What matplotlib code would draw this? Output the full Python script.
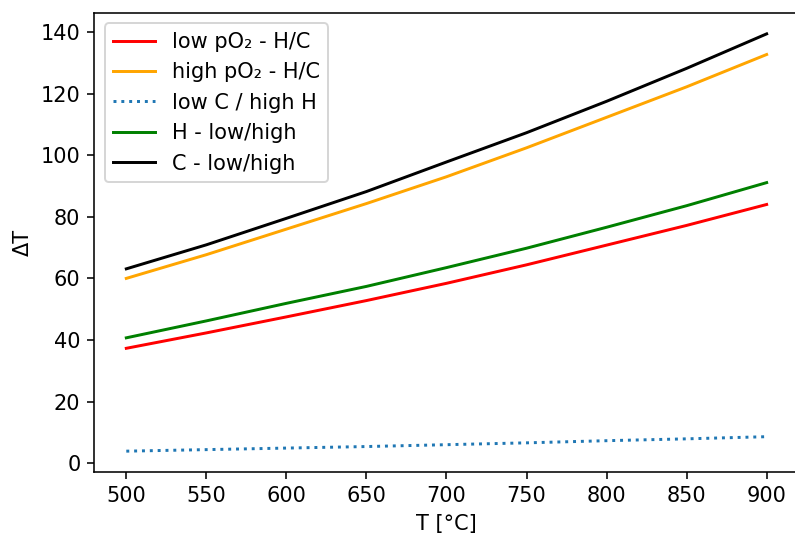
import matplotlib.pyplot as plt

# Temperaturen in °C
temperatur = [500, 550, 600, 650, 700, 750, 800, 850, 900]

# Delta T für die einzelnen Fälle
low_po2 = [37.3, 42.3, 47.5, 52.8, 58.4, 64.4, 70.8, 77.2, 84.0]
high_po2 = [60.0, 67.7, 76.0, 84.3, 93.0, 102.4, 112.3, 122.2, 132.7]
low_c_high_h = [3.9, 4.4, 4.9, 5.4, 6.0, 6.6, 7.3, 7.9, 8.6]
h_low_high = [40.7, 46.2, 51.9, 57.4, 63.5, 69.8, 76.6, 83.6, 91.1]
c_low_high = [63.1, 70.9, 79.5, 88.2, 97.8, 107.3, 117.5, 128.2, 139.4]

plt.rcParams['font.size'] = 10.6

fig = plt.figure(figsize=(795 / 142, 533 / 142), dpi=142)
ax = fig.add_axes([0.1186, 0.1144, 0.886, 0.8612])

ax.plot(temperatur, low_po2, color='red', label='low pO₂ - H/C')
ax.plot(temperatur, high_po2, color='orange', label='high pO₂ - H/C')
ax.plot(temperatur, low_c_high_h, ':', color='tab:blue', label='low C / high H')
ax.plot(temperatur, h_low_high, color='green', label='H - low/high')
ax.plot(temperatur, c_low_high, color='black', label='C - low/high')

# rechter Rand liegt ausserhalb des Bildes
ax.spines['right'].set_visible(False)

ax.set_xticks(range(500, 901, 50))
ax.set_yticks(range(0, 141, 20))
ax.set_xlabel('T [°C]')
ax.set_ylabel('ΔT')
ax.legend(loc='upper left')

fig.savefig('out.png', dpi=142)
